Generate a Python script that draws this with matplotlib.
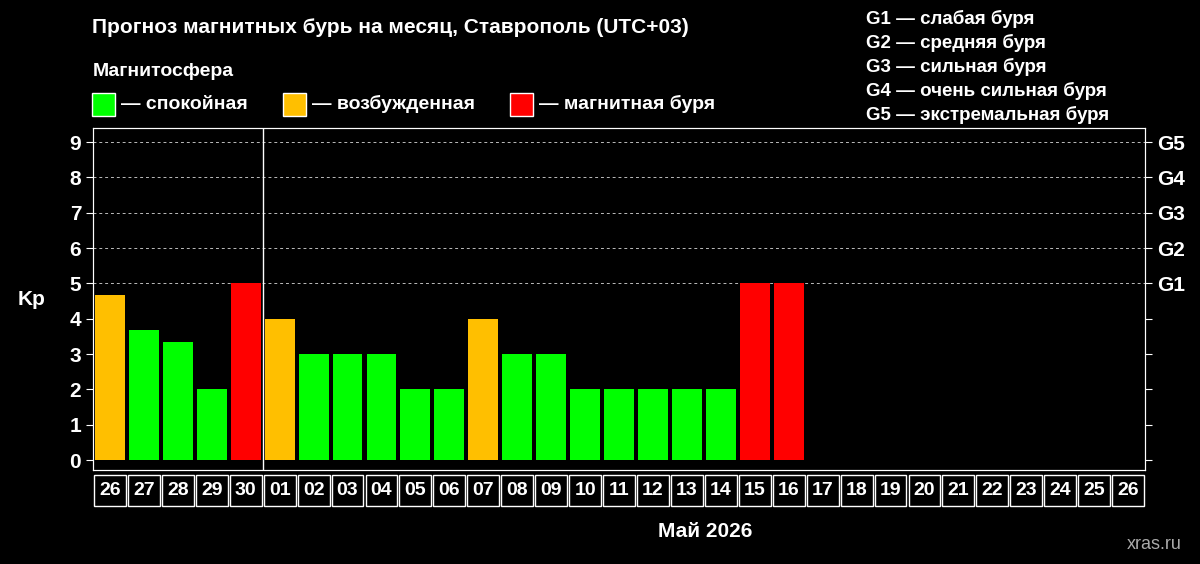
import matplotlib
matplotlib.use("Agg")
import matplotlib.pyplot as plt
from matplotlib.patches import Rectangle
import matplotlib.transforms as mtrans

days = ["26","27","28","29","30","01","02","03","04","05","06","07","08","09","10","11","12","13","14","15","16","17","18","19","20","21","22","23","24","25","26"]
kp = [4.67,3.67,3.33,2,5,4,3,3,3,2,2,4,3,3,2,2,2,2,2,5,5]
g_labels = ["G1","G2","G3","G4","G5"]
legend_items = [("#00ff00","— спокойная"),("#ffbf00","— возбужденная"),("#ff0000","— магнитная буря")]
g_text = ["G1 — слабая буря","G2 — средняя буря","G3 — сильная буря","G4 — очень сильная буря","G5 — экстремальная буря"]

def color(v):
    if v >= 5: return "#ff0000"
    if v >= 4: return "#ffbf00"
    return "#00ff00"

plt.rcParams['font.family'] = ['Liberation Sans', 'DejaVu Sans']
plt.rcParams['font.weight'] = 'bold'
fig = plt.figure(figsize=(12, 5.64), dpi=100, facecolor="black")
ax = fig.add_axes([0.0775, 0.1667, 0.8767, 0.6063], facecolor="black")
x = list(range(len(kp)))
ax.bar(x, kp, width=0.88, color=[color(v) for v in kp])
ax.set_xlim(-0.5, len(days) - 0.5)
ax.set_ylim(-0.28, 9.4)
for s in ax.spines.values():
    s.set_color("white")
ax.set_yticks(range(10))
ax.tick_params(axis="y", colors="white", labelsize=15, direction="out", length=5)
ax.set_xticks([])
for y in range(5, 10):
    ax.axhline(y, color="#bbbbbb", ls=(0, (3, 3)), lw=0.7, zorder=0)
ax.axvline(4.5, color="white", lw=1)
ax2 = ax.twinx()
ax2.set_ylim(ax.get_ylim())
ax2.set_yticks(range(10))
ax2.set_yticklabels([""] * 5 + g_labels)
ax2.tick_params(axis="y", colors="white", labelsize=15, length=5)
for s in ax2.spines.values():
    s.set_color("white")
ax.text(-0.058, 0.5, "Kp", transform=ax.transAxes, color="white", fontsize=15, ha="center", va="center")

trans = mtrans.blended_transform_factory(ax.transData, ax.transAxes)
for i, d in enumerate(days):
    ax.add_patch(Rectangle((i - 0.47, -0.105), 0.94, 0.09, transform=trans, clip_on=False,
                           facecolor="black", edgecolor="white", lw=1))
    ax.text(i, -0.06, d, transform=trans, color="white", fontsize=14, ha="center", va="center")
fig.text(0.588, 0.058, "Май 2026", color="white", fontsize=15, ha="center", va="center")
fig.text(0.962, 0.035, "xras.ru", color="#aaaaaa", fontsize=13, ha="center", va="center", fontweight="normal")

fig.text(0.077, 0.952, "Прогноз магнитных бурь на месяц, Ставрополь (UTC+03)", color="white", fontsize=15, va="center")
fig.text(0.077, 0.873, "Магнитосфера", color="white", fontsize=14, va="center")
lx = [0.077, 0.236, 0.425]
for (c, t), xx in zip(legend_items, lx):
    fig.patches.append(Rectangle((xx, 0.795), 0.019, 0.04, transform=fig.transFigure, facecolor=c, edgecolor="white", lw=1))
    fig.text(xx + 0.024, 0.815, t, color="white", fontsize=14, va="center")
for i, t in enumerate(g_text):
    fig.text(0.722, 0.966 - i * 0.0425, t, color="white", fontsize=13.5, va="center")
fig.savefig("out.png", facecolor="black")
